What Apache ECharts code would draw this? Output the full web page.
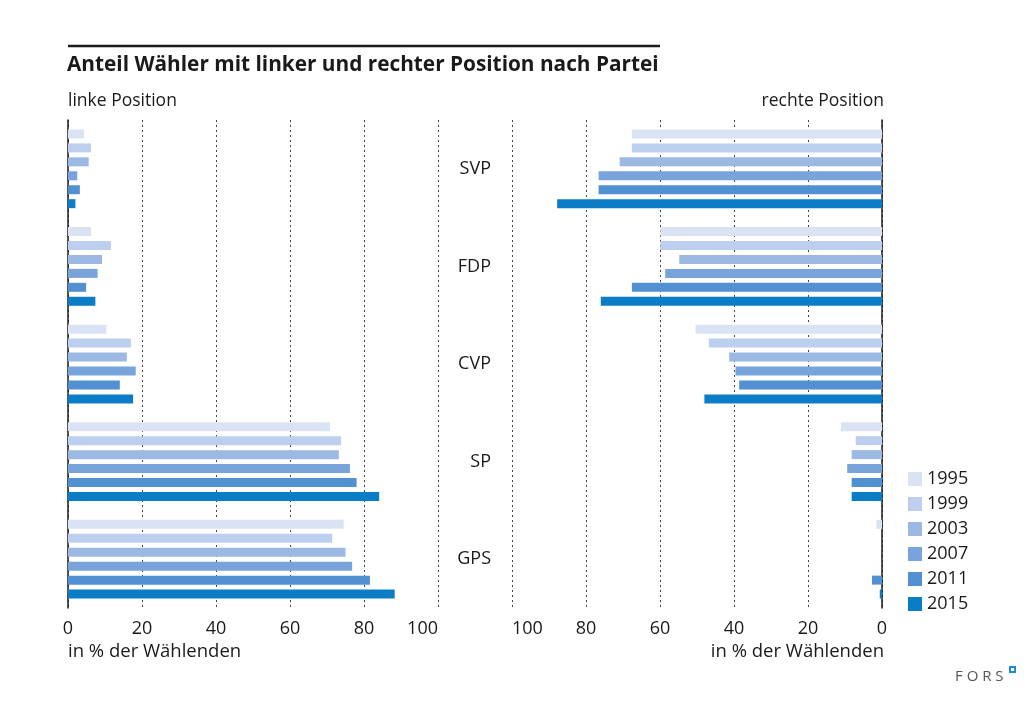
<!DOCTYPE html>
<html><head><meta charset="utf-8">
<script src="https://cdn.jsdelivr.net/npm/echarts@6/dist/echarts.min.js"></script>
<style>html,body{margin:0;padding:0;background:#fff}#c{width:1035px;height:704px}</style>
</head><body><div id="c"></div>
<script>
const categories = ['SVP', 'FDP', 'CVP', 'SP', 'GPS'];
const years = ['1995', '1999', '2003', '2007', '2011', '2015'];
// linke Position (% der Wählenden), per year, order of categories
const left1995 = [4.3, 6.2, 10.4, 70.8, 74.5];
const left1999 = [6.2, 11.6, 17.0, 73.8, 71.4];
const left2003 = [5.6, 9.2, 15.9, 73.2, 75.0];
const left2007 = [2.5, 8.0, 18.3, 76.2, 76.8];
const left2011 = [3.2, 4.9, 14.0, 78.0, 81.6];
const left2015 = [2.0, 7.4, 17.6, 84.1, 88.3];
// rechte Position
const right1995 = [67.6, 59.9, 50.4, 11.1, 1.5];
const right1999 = [67.6, 59.9, 46.8, 7.1, 0];
const right2003 = [70.9, 54.8, 41.3, 8.2, 0];
const right2007 = [76.6, 58.6, 39.6, 9.4, 0];
const right2011 = [76.6, 67.6, 38.6, 8.2, 2.7];
const right2015 = [87.8, 76.0, 48.0, 8.2, 0.6];

const leftData = [left1995, left1999, left2003, left2007, left2011, left2015];
const rightData = [right1995, right1999, right2003, right2007, right2011, right2015];
const palette = ['#dae3f4', '#bdcfee', '#9cb9e4', '#78a3db', '#5190d1', '#0b7dc6'];

const FONT = '"Open Sans", "Noto Sans", sans-serif';
const TXT = '#1a1a1a';

const chart = echarts.init(document.getElementById('c'), null, {renderer: 'canvas'});

function xAx(grid, inverse) {
  return {
    type: 'value', gridIndex: grid, min: 0, max: 100, interval: 20, inverse: inverse,
    axisLine: {show: false}, axisTick: {show: false},
    splitLine: {show: true, lineStyle: {color: '#444', type: [2, 3], width: 1}},
    axisLabel: {
      fontFamily: FONT, fontSize: 18, color: TXT, margin: 12,
      alignMinLabel: 'center',
      alignMaxLabel: inverse ? 'left' : 'right'
    }
  };
}

const series = [];
years.forEach((y, i) => {
  series.push({
    name: y, type: 'bar', xAxisIndex: 0, yAxisIndex: 0, data: leftData[i],
    barWidth: 9, barGap: '55%', itemStyle: {color: palette[i]}, silent: true
  });
});
years.forEach((y, i) => {
  series.push({
    name: y, type: 'bar', xAxisIndex: 1, yAxisIndex: 1, data: rightData[i],
    barWidth: 9, barGap: '55%', itemStyle: {color: palette[i]}, silent: true
  });
});

const plain = (size) => ({fontFamily: FONT, fontSize: size, fontWeight: 'normal', color: TXT});

chart.setOption({
  animation: false,
  backgroundColor: '#fff',
  textStyle: {fontFamily: FONT},
  color: palette,
  title: [
    {text: 'Anteil Wähler mit linker und rechter Position nach Partei', left: 67, top: 55, padding: 0,
      textStyle: {fontFamily: FONT, fontSize: 20.8, fontWeight: 'bold', color: TXT}},
    {text: 'linke Position', left: 68, top: 92, padding: 0, textStyle: plain(17.5)},
    {text: 'rechte Position', right: 151, top: 92, padding: 0, textStyle: plain(17.5)},
    {text: 'in % der Wählenden', left: 68, top: 642, padding: 0, textStyle: plain(18.5)},
    {text: 'in % der Wählenden', right: 151, top: 642, padding: 0, textStyle: plain(18.5)}
  ],
  graphic: [
    {type: 'line', shape: {x1: 68, y1: 46, x2: 660, y2: 46}, style: {stroke: '#1a1a1a', lineWidth: 2.5}},
    {type: 'text', left: 955, top: 669, style: {text: 'F O R S', font: '15px ' + FONT, fill: '#555'}},
    {type: 'rect', shape: {x: 1010, y: 667, width: 5, height: 5}, style: {fill: '#fff', stroke: '#1a8fd6', lineWidth: 2}}
  ],
  legend: {
    orient: 'vertical', left: 903, top: 465, itemWidth: 14, itemHeight: 14, itemGap: 7,
    icon: 'rect', selectedMode: false, data: years,
    textStyle: {fontFamily: FONT, fontSize: 18, color: TXT}
  },
  grid: [
    {left: 68, top: 120, width: 370, height: 488},
    {left: 512, top: 120, width: 370, height: 488}
  ],
  xAxis: [xAx(0, false), xAx(1, true)],
  yAxis: [
    {type: 'category', gridIndex: 0, data: categories, inverse: true, position: 'left',
      axisLine: {show: true, onZero: false, lineStyle: {color: '#1a1a1a', width: 1.5}},
      axisTick: {show: false}, axisLabel: {show: false}, splitLine: {show: false}},
    {type: 'category', gridIndex: 1, data: categories, inverse: true, position: 'right',
      axisLine: {show: true, onZero: false, lineStyle: {color: '#1a1a1a', width: 1.5}},
      axisTick: {show: false}, axisLabel: {show: false}, splitLine: {show: false}},
    {type: 'category', gridIndex: 1, data: categories, inverse: true, position: 'left',
      axisLine: {show: false, onZero: false}, axisTick: {show: false}, splitLine: {show: false},
      axisLabel: {show: true, align: 'right', margin: 21, fontFamily: FONT, fontSize: 18, color: TXT}}
  ],
  series: series
});
</script>
</body></html>
